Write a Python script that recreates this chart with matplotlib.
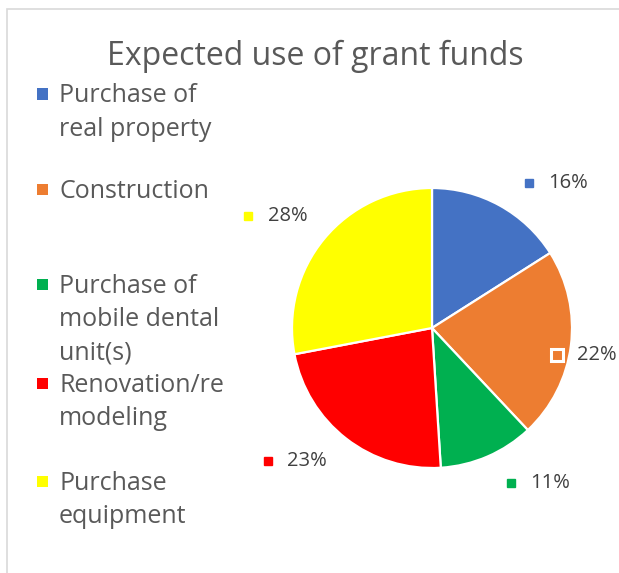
import matplotlib
matplotlib.use("Agg")
import matplotlib.pyplot as plt
from matplotlib.patches import Rectangle

categories = ["Purchase of\nreal property", "Construction",
              "Purchase of\nmobile dental\nunit(s)", "Renovation/re\nmodeling",
              "Purchase\nequipment"]
values = [16, 22, 11, 23, 28]
colors = ["#4472C4", "#ED7D31", "#00B050", "#FF0000", "#FFFF00"]
title = "Expected use of grant funds"

# label marker positions (data units of the pie axes)
label_pos = [(0.693, 1.036), (0.893, -0.193), (0.564, -1.107),
             (-1.175, -0.95), (-1.314, 0.80)]
# legend first-baseline y positions (pixels from top)
legend_y = [102.5, 198, 293, 392, 490]

W, H = 619, 573
plt.rcParams['font.family'] = ['Open Sans', 'DejaVu Sans']
fig = plt.figure(figsize=(W / 100, H / 100), dpi=100)
fig.patch.set_facecolor("white")

# chart border
fig.patches.append(Rectangle((7 / W, -0.1), 1.2, (H - 9) / H + 0.1,
                             transform=fig.transFigure, fill=False,
                             edgecolor="#D9D9D9", linewidth=1.2))

fig.text(315 / W, 1 - 65 / H, title, ha="center", va="baseline",
         fontsize=23, color="#595959")

cx, cy, r = 432, 328, 140
ax = fig.add_axes([(cx - r) / W, (H - cy - r) / H, 2 * r / W, 2 * r / H])
ax.pie(values, colors=colors, startangle=90, counterclock=False,
       wedgeprops=dict(edgecolor="white", linewidth=1.6))
ax.set_xlim(-1, 1)
ax.set_ylim(-1, 1)
ax.set_aspect("equal")
ax.axis("off")

for i, (v, c) in enumerate(zip(values, colors)):
    mx, my = label_pos[i]
    if i == 1:
        ax.plot(mx, my, marker="s", markersize=8.5, markerfacecolor=c,
                markeredgecolor="white", markeredgewidth=2.2, clip_on=False)
    else:
        ax.plot(mx, my, marker="s", markersize=6, color=c, clip_on=False)
    ax.text(mx + 0.14, my, f"{v}%", ha="left", va="center", fontsize=14.5,
            color="#404040", clip_on=False)

# legend
for lab, c, yb in zip(categories, colors, legend_y):
    lines = lab.split("\n")
    fig.patches.append(Rectangle((37 / W, 1 - (yb - 3) / H), 11 / W, 11 / H,
                                 transform=fig.transFigure, facecolor=c,
                                 edgecolor="none"))
    for k, ln in enumerate(lines):
        fig.text(59 / W, 1 - (yb + k * 33) / H, ln, ha="left", va="baseline",
                 fontsize=18, color="#595959")

fig.savefig("out.png", dpi=100, facecolor="white")
